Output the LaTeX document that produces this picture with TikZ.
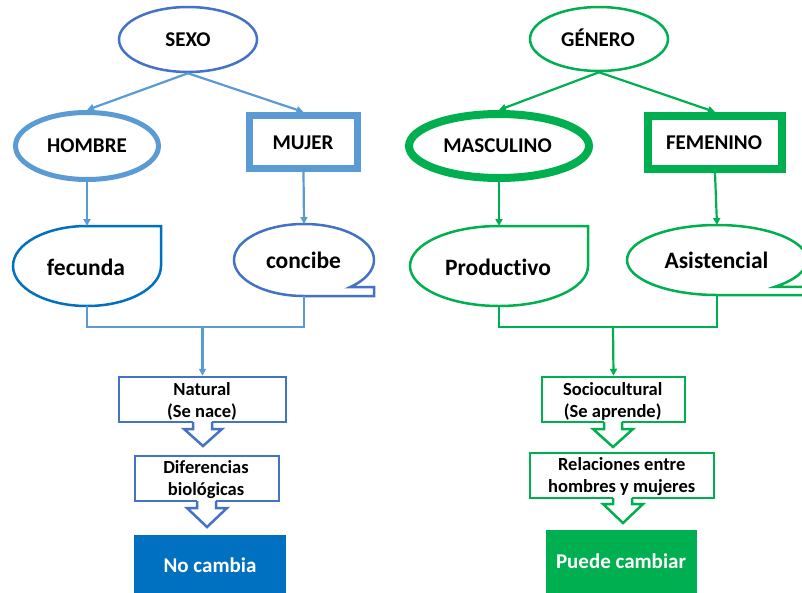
\documentclass[tikz,border=0pt]{standalone}
\usepackage{fontspec}
\setmainfont{Carlito}[Ligatures={NoCommon}]
\usetikzlibrary{shapes.geometric,arrows.meta}
\definecolor{bA}{HTML}{4472C4}
\definecolor{bB}{HTML}{5B9BD5}
\definecolor{bC}{HTML}{0070C0}
\definecolor{gA}{HTML}{00B050}
% #1 colour, #2 shaft left, #3 shaft right, #4 head left, #5 head right, #6 box bottom, #7 head y, #8 tip y
\newcommand\blkarr[8]{%
  \fill[white] (#2,#6-1.6) rectangle (#3,#7);
  \fill[white] (#4,#7) -- ({(#4+#5)/2},#8) -- (#5,#7) -- cycle;
  \draw[#1, line width=2.5pt, line join=miter] (#2,#6) -- (#2,#7) -- (#4,#7) -- ({(#4+#5)/2},#8) -- (#5,#7) -- (#3,#7) -- (#3,#6);
}
\tikzset{
  tA/.style={font=\bfseries\fontsize{21}{25}\selectfont, anchor=base, inner sep=0},
  tB/.style={font=\bfseries\fontsize{23.5}{28}\selectfont, anchor=base, inner sep=0},
  tC/.style={font=\bfseries\fontsize{18.5}{22}\selectfont, anchor=base, inner sep=0},
  ghost/.style={ellipse, inner sep=0, outer sep=0},
  connB/.style={draw=bB, line width=2.2pt, -{Triangle[length=7pt,width=7pt]}},
  connG/.style={draw=gA, line width=2.2pt, -{Triangle[length=7pt,width=7pt]}},
  boxB/.style={rectangle, draw=bA, line width=2.5pt, inner sep=0, minimum height=45},
  boxG/.style={rectangle, draw=gA, line width=2.5pt, inner sep=0, minimum height=45},
}
\begin{document}
\begin{tikzpicture}[x=1pt,y=-1pt]
\useasboundingbox (0,0) rectangle (802,592);
\clip (0,0) rectangle (802,592);
\fill[white] (0,0) rectangle (802,592);

%% ---------------- LEFT: SEXO ----------------
\node[ellipse, draw=bA, line width=2.5pt, minimum width=138, minimum height=65, inner sep=0] (sexo) at (188,39.5) {};
\node[tA] (tsexo) at (188,46.7) {SEXO};

\node[ellipse, draw=bB, line width=5pt, minimum width=143, minimum height=67, inner sep=0] (hombre) at (87,146) {};
\node[tA] (thombre) at (87,152.7) {HOMBRE};

\node[rectangle, draw=bB, line width=7pt, minimum width=108, minimum height=53, inner sep=0] (mujer) at (303.5,142) {};
\node[tA] (tmujer) at (303,149) {MUJER};

\draw[connB] (sexo.south) -- (hombre.north);
\draw[connB] (sexo.south) -- (mujer.north);

% fecunda callout
\node[ghost, minimum width=148, minimum height=80] (fec) at (87,266) {};
\draw[bC, line width=2.5pt, line join=miter] (161,226) -- (161,266) arc[start angle=0, end angle=270, x radius=74, y radius=40] -- cycle;
\node[tB] (tfec) at (86,275) {fecunda};

% concibe callout
\node[ghost, minimum width=140, minimum height=72] (conc) at (304,260) {};
\draw[bA, line width=2.5pt, line join=miter] (304,296) arc[start angle=90, end angle=409, x radius=70, y radius=36] -- (374,287) -- (374,296) -- cycle;
\node[tB] (tconc) at (303.5,268) {concibe};

\draw[connB] (hombre.south) -- (fec.north);
\draw[connB] (mujer.south) -- (conc.north);

\coordinate (jl) at (202.5,327);
\draw[bB, line width=2.2pt] (fec.south) |- (jl) -| (conc.south);

\node[boxB, minimum width=167] (nat) at (202.5,399.5) {};
\node[tC] (tnat1) at (202,395) {Natural};
\node[tC] (tnat2) at (202,417) {(Se nace)};
\draw[connB] (jl) -- (nat.north);
\blkarr{bA}{193}{212}{184}{222}{422}{429}{446}

\node[boxB, minimum width=144] (dif) at (207,478.5) {};
\node[tC] (tdif1) at (206,473) {Diferencias};
\node[tC] (tdif2) at (206,495) {biológicas};
\blkarr{bA}{197}{216}{187}{227}{501}{508}{527}

\node[rectangle, fill=bC, minimum width=152, minimum height=70, anchor=north, inner sep=0] (noc) at (210,535) {};
\node[tA, text=white] (tnoc) at (210,572.5) {No cambia};

%% ---------------- RIGHT: GÉNERO ----------------
\node[ellipse, draw=gA, line width=2.5pt, minimum width=138, minimum height=64, inner sep=0] (gen) at (599,39) {};
\node[tA] (tgen) at (598,46) {GÉNERO};

\node[ellipse, draw=gA, line width=8pt, minimum width=180, minimum height=64, inner sep=0] (masc) at (499,146) {};
\node[tA] (tmasc) at (497.5,152.7) {MASCULINO};

\node[rectangle, draw=gA, line width=8pt, minimum width=134, minimum height=53, inner sep=0] (fem) at (715,142.5) {};
\node[tA] (tfem) at (714,149) {FEMENINO};

\draw[connG] (gen.south) -- (masc.north);
\draw[connG] (gen.south) -- (fem.north);

% Productivo callout
\node[ghost, minimum width=178, minimum height=80] (prod) at (499,266) {};
\draw[gA, line width=2.5pt, line join=miter] (588,226) -- (588,266) arc[start angle=0, end angle=270, x radius=89, y radius=40] -- cycle;
\node[tB] (tprod) at (498,275) {Productivo};

% Asistencial callout
\node[ghost, minimum width=180, minimum height=70] (asis) at (717,260) {};
\draw[gA, line width=2.5pt, line join=miter] (717,295) arc[start angle=90, end angle=410, x radius=90, y radius=35] -- (815,287) -- (815,295) -- cycle;
\node[tB] (tasis) at (716.5,268) {Asistencial};

\draw[connG] (masc.south) -- (prod.north);
\draw[connG] (fem.south) -- (asis.north);

\coordinate (jr) at (613,327);
\draw[gA, line width=2.2pt] (prod.south) |- (jr) -| (asis.south);

\node[boxG, minimum width=143] (soc) at (613.5,399.5) {};
\node[tC] (tsoc1) at (612.7,395) {Sociocultural};
\node[tC] (tsoc2) at (612.7,417) {(Se aprende)};
\draw[connG] (jr) -- (soc.north);
\blkarr{gA}{604}{622}{593}{633}{422}{429}{447}

\node[boxG, minimum width=184] (rel) at (622,475.5) {};
\node[tC] (trel1) at (621.7,470) {Relaciones entre};
\node[tC] (trel2) at (621.7,492) {hombres y mujeres};
\blkarr{gA}{613}{632}{603}{643}{498}{504}{523}

\node[rectangle, fill=gA, minimum width=151, minimum height=70, anchor=north, inner sep=0] (pue) at (621.5,530) {};
\node[tA, text=white] (tpue) at (621,568) {Puede cambiar};
\end{tikzpicture}
\end{document}
